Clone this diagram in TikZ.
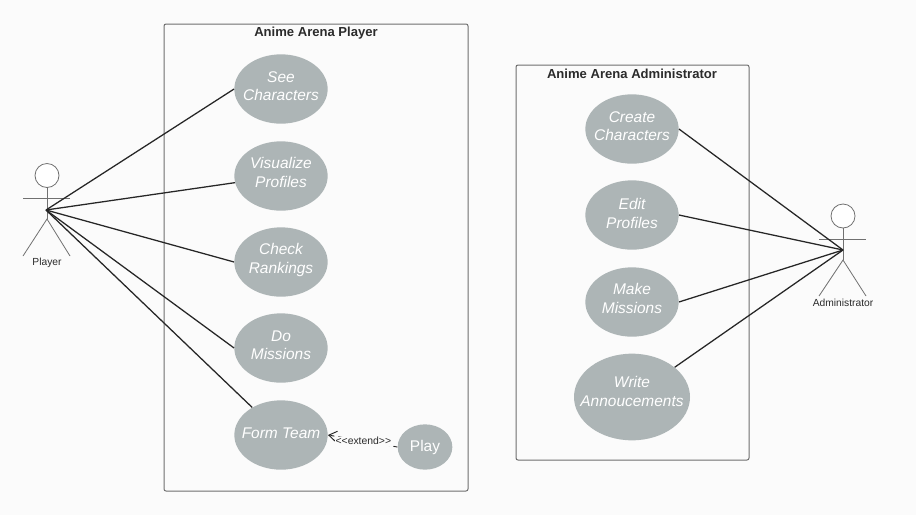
\documentclass[tikz,border=0pt]{standalone}
\usepackage{fontspec}
\setmainfont{Liberation Sans}
\definecolor{pagebg}{HTML}{FBFBFB}
\definecolor{usecasefill}{HTML}{ADB5B6}
\definecolor{framecol}{HTML}{6E6E6E}
\definecolor{linecol}{HTML}{262626}
\definecolor{actorcol}{HTML}{707070}
\definecolor{textcol}{HTML}{2B2B2B}
\usetikzlibrary{shapes.geometric,arrows.meta}
\tikzset{
  usecase/.style={ellipse,fill=usecasefill,inner sep=0pt,minimum width=70pt,minimum height=52pt},
  bigcase/.style={usecase,minimum width=87pt,minimum height=65pt},
  smallcase/.style={usecase,minimum width=41pt,minimum height=34pt},
  uctext/.style={text=white,inner sep=0pt,align=center,yshift=2pt,
    font=\fontsize{11.6pt}{14pt}\selectfont\itshape},
  boundary/.style={draw=framecol,line width=0.75pt,rounded corners=1.5pt},
  boxtitle/.style={font=\fontsize{9.8pt}{11pt}\selectfont\bfseries,text=textcol,inner sep=0pt},
  assoc/.style={draw=linecol,line width=0.95pt},
  actorline/.style={draw=actorcol,line width=0.6pt},
  actorhead/.style={circle,draw=actorcol,fill=white,line width=0.6pt,minimum size=18pt,inner sep=0pt},
  actorlabel/.style={font=\fontsize{7.7pt}{9pt}\selectfont,text=textcol,inner sep=0pt},
}
\begin{document}
\begin{tikzpicture}[x=0.75pt,y=-0.75pt]
\useasboundingbox[fill=pagebg] (0,0) rectangle (916,515);
% boundaries
\draw[boundary] (164,24) rectangle (468,491);
\draw[boundary] (516,65) rectangle (749,460);
\node[boxtitle] (ptitle) at (316,33) {Anime Arena Player};
\node[boxtitle] (atitle) at (632,73.5) {Anime Arena Administrator};
% player use cases
\node[usecase,label={[uctext]center:{See\\Characters}}] (see) at (281,89) {};
\node[usecase,label={[uctext,yshift=0.6pt]center:{Visualize\\Profiles}}] (vis) at (281,176) {};
\node[usecase,label={[uctext,yshift=-0.6pt]center:{Check\\Rankings}}] (check) at (281,262) {};
\node[usecase,label={[uctext]center:{Do\\Missions}}] (do) at (281,348) {};
\node[usecase,label={[uctext,yshift=-0.8pt]center:{Form Team}}] (form) at (281,435) {};
\node[smallcase,label={[uctext,yshift=-2.2pt,font=\fontsize{11.6pt}{14pt}\selectfont]center:{Play}}] (play) at (425,447) {};
% admin use cases
\node[usecase,label={[uctext]center:{Create\\Characters}}] (create) at (632,129) {};
\node[usecase,label={[uctext,yshift=-1pt]center:{Edit\\Profiles}}] (edit) at (632,215) {};
\node[usecase,label={[uctext,yshift=0.6pt]center:{Make\\Missions}}] (make) at (632,302) {};
\node[bigcase,label={[uctext,yshift=2pt]center:{Write\\Annoucements}}] (write) at (632,397) {};
% player actor
\node[actorhead] (phead) at (47,175.5) {};
\coordinate (phip) at (47,219);
\coordinate (phub) at (46,210);
\coordinate (parml) at (23,198);
\coordinate (parmr) at (70,198);
\coordinate (plegl) at (23,256);
\coordinate (plegr) at (70,256);
\draw[actorline] (phead) -- (phip);
\draw[actorline] (parml) -- (parmr);
\draw[actorline] (plegl) -- (phip) -- (plegr);
\node[actorlabel] (plabel) at (47,262.5) {Player};
% admin actor
\node[actorhead] (ahead) at (843,216) {};
\coordinate (ahip) at (843,260);
\coordinate (ahub) at (843,250);
\coordinate (aarml) at (819,239.5);
\coordinate (aarmr) at (866,239.5);
\coordinate (alegl) at (819,296);
\coordinate (alegr) at (866,296);
\draw[actorline] (ahead) -- (ahip);
\draw[actorline] (aarml) -- (aarmr);
\draw[actorline] (alegl) -- (ahip) -- (alegr);
\node[actorlabel] (alabel) at (843,303) {Administrator};
% associations
\draw[assoc] (phub) -- (see.west);
\draw[assoc] (phub) -- (vis);
\draw[assoc] (phub) -- (check.west);
\draw[assoc] (phub) -- (do.west);
\draw[assoc] (phub) -- (form);
\draw[assoc] (create.east) -- (ahub);
\draw[assoc] (edit.east) -- (ahub);
\draw[assoc] (make.east) -- (ahub);
\draw[assoc] (write) -- (ahub);
% extend
\draw[draw=linecol,line width=0.7pt,dashed,-{Straight Barb[length=6pt,width=8pt,line width=0.7pt]}] (play.west) -- (form.east)
  node[pos=0.49,fill=pagebg,inner sep=0.5pt,font=\fontsize{7.8pt}{9pt}\selectfont,text=textcol] (extlabel) {{<}{<}extend{>}{>}};
\end{tikzpicture}
\end{document}
